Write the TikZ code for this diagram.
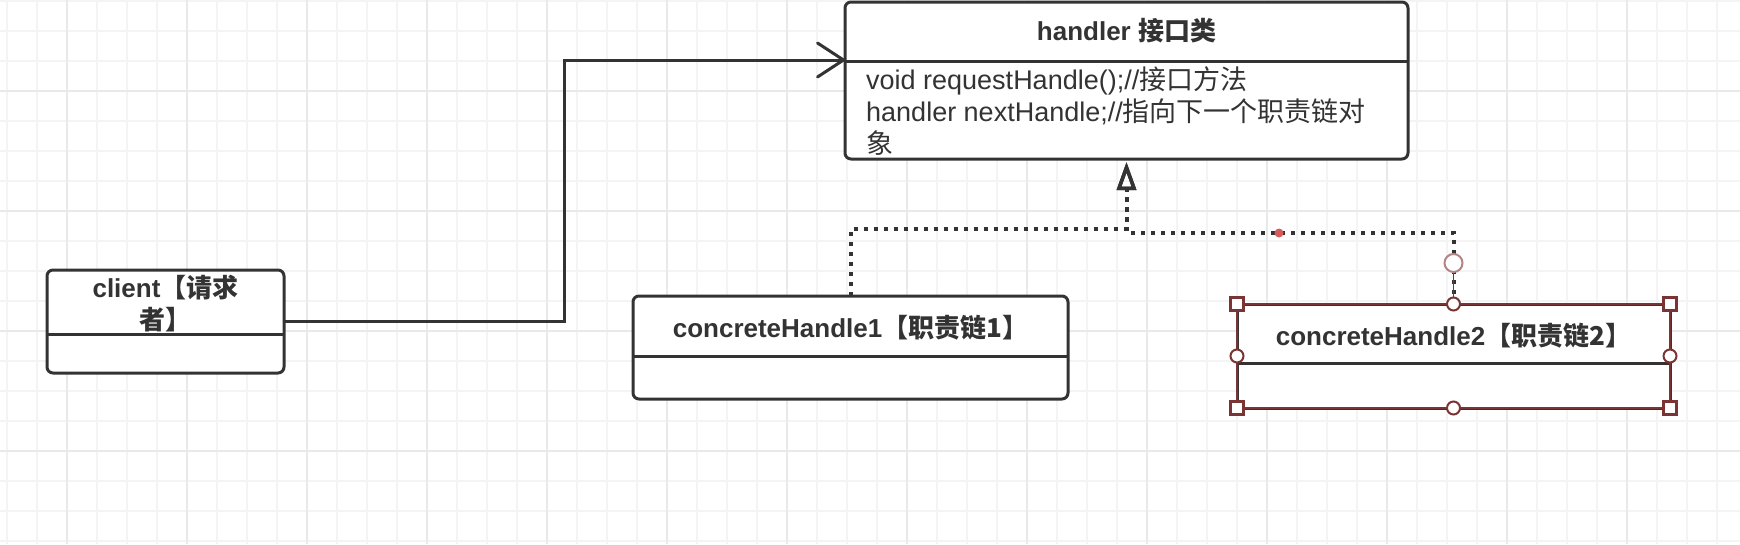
\documentclass[tikz,border=0pt]{standalone}
\usepackage{fontspec}
\setmainfont{Liberation Sans}
\newfontfamily\cjk{Noto Sans CJK SC}
\usetikzlibrary{arrows.meta, positioning, calc}

\definecolor{ink}{HTML}{333333}
\definecolor{gridminor}{HTML}{F4F4F4}
\definecolor{gridmajor}{HTML}{E9E9E9}
\definecolor{selbrown}{HTML}{7A3434}
\definecolor{seldot}{HTML}{D65C5C}
\definecolor{selring}{HTML}{B58585}

\begin{document}
\begin{tikzpicture}[x=1pt, y=-1pt,
    umlbox/.style={draw=ink, line width=3pt, rounded corners=6pt, fill=white, anchor=north west, inner sep=0pt, outer sep=0pt},
    umltitle/.style={text=ink, font=\fontsize{26}{32}\selectfont\bfseries, align=center, inner sep=0pt},
    umlbody/.style={text=ink, font=\fontsize{27}{32}\selectfont, align=left, anchor=north west, inner sep=0pt},
    divider/.style={draw=ink, line width=3pt},
    assoc/.style={draw=ink, line width=3pt, -{Straight Barb[length=26pt, width=34pt, round]}},
    realize/.style={draw=ink, line width=4pt, dash pattern=on 4pt off 6pt, shorten >=3pt, -{Triangle[open, length=28pt, width=19pt, line width=3.5pt]}},
    selsquare/.style={rectangle, draw=selbrown, fill=white, line width=2.5pt, minimum size=13pt, inner sep=0pt},
    selknob/.style={circle, draw=selbrown, fill=white, line width=2pt, minimum size=13pt, inner sep=0pt}]
    \useasboundingbox (0,0) rectangle (1740,544);
    \fill[white] (0,0) rectangle (1740,544);
    % grid
    \foreach \gx in {7,37,...,1740} \draw[gridminor, line width=1.5pt] (\gx,0) -- (\gx,544);
    \foreach \gy in {1,31,...,544} \draw[gridminor, line width=1.5pt] (0,\gy) -- (1740,\gy);
    \foreach \gx in {67,187,...,1740} \draw[gridmajor, line width=1.5pt] (\gx,0) -- (\gx,544);
    \foreach \gy in {91,211,...,544} \draw[gridmajor, line width=1.5pt] (0,\gy) -- (1740,\gy);

    % classes
    \node[umlbox, minimum width=237pt, minimum height=103pt] (client) at (47,270) {};
    \node[umltitle] (clientname) at (165.5,304) {client{\cjk【请求}\\{\cjk 者】}};
    \draw[divider] (client.west |- 0,334) -- (client.east |- 0,334);

    \node[umlbox, minimum width=563pt, minimum height=157pt] (hdl) at (845,2) {};
    \node[umltitle] (hdltitle) at (1126.5,31) {handler {\cjk 接口类}};
    \draw[divider] (hdl.west |- 0,61) -- (hdl.east |- 0,61);
    \node[umlbody] (hdlbody) at (866,66) {void requestHandle();//{\cjk 接口方法}\\handler nextHandle;//{\cjk 指向下一个职责链对}\\{\cjk 象}};

    \node[umlbox, minimum width=435pt, minimum height=103pt] (ch1) at (633,296) {};
    \node[umltitle] (ch1name) at (850.5,328) {concreteHandle1{\cjk【职责链1】}};
    \draw[divider] (ch1.west |- 0,356) -- (ch1.east |- 0,356);

    \node[umlbox, minimum width=433pt, minimum height=104pt, rounded corners=0pt] (ch2) at (1237,304) {};
    \node[umltitle] (ch2name) at (1453.5,336) {concreteHandle2{\cjk【职责链2】}};
    \draw[divider] (ch2.west |- 0,363) -- (ch2.east |- 0,363);

    % connectors
    \draw[assoc] (client.east) -| (564,60) -- (hdl.west |- 0,60);
    \draw[realize] (ch1.north) |- (hdl.south |- 0,229) -- (hdl.south);
    \draw[realize] (ch2.north) |- (hdl.south |- 0,233) -- (hdl.south);

    % selection handles
    \draw[selbrown, line width=1.5pt] (ch2.north west) rectangle (ch2.south east);
    \fill[seldot] (1279,233) circle (4.5pt);
    \draw[selbrown, line width=1.5pt] (1453.5,272) -- (ch2.north);
    \draw[selring, line width=2pt, fill=white] (1453.5,263) circle (9pt);
    \foreach \p/\q in {north west/nw, north east/ne, south west/sw, south east/se}
        \node[selsquare] (sel-\q) at (ch2.\p) {};
    \foreach \p/\q in {north/n, south/s, west/w, east/e}
        \node[selknob] (knob-\q) at (ch2.\p) {};
\end{tikzpicture}
\end{document}
